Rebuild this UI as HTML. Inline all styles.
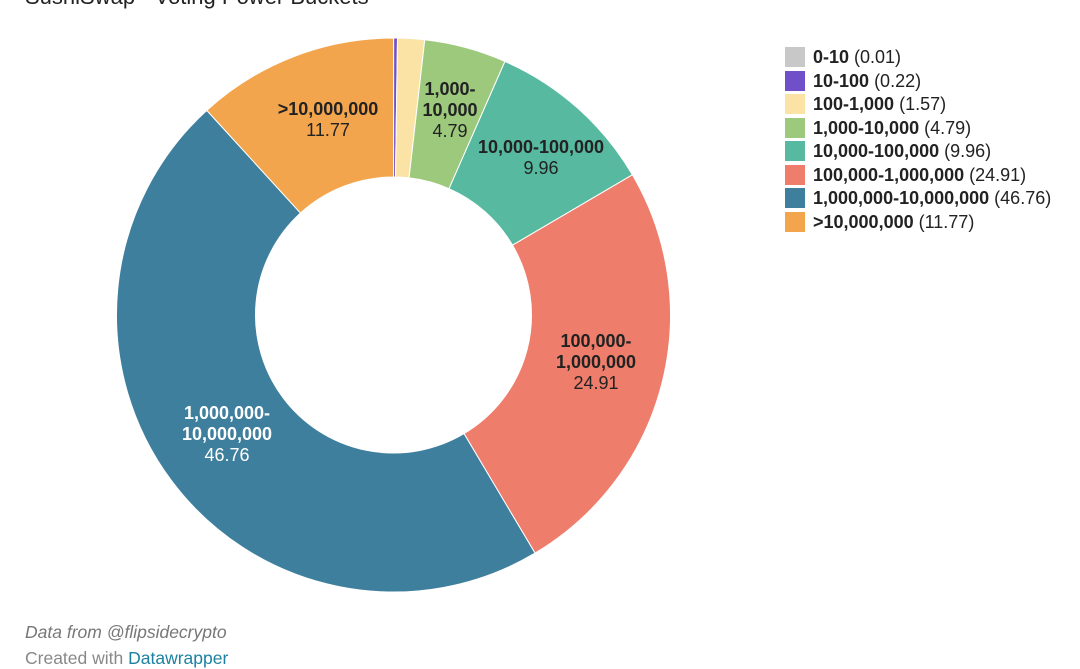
<!DOCTYPE html>
<html><head><meta charset="utf-8"><style>
body{margin:0;width:1080px;height:663px;overflow:hidden;background:#fff;font-family:"Liberation Sans",sans-serif;position:relative}
.t{position:absolute;left:25px;top:-16px;font-size:22px;color:#222}
.lg{position:absolute;left:785px;top:46px;font-size:18px;color:#222}
.lg div{height:23.5px;line-height:22px;white-space:nowrap}
.lg span.s{display:inline-block;width:20px;height:20px;vertical-align:-4px;margin-right:8px}
.f{position:absolute;left:25px;font-size:17.5px;color:#777;font-style:italic}
</style></head><body>
<div class="t">SushiSwap - Voting Power Buckets</div>
<svg id="c" width="1080" height="663" style="position:absolute;left:0;top:0"></svg>
<div class="lg">
<div><span class="s" style="background:#c8c8c8"></span><b>0-10</b> (0.01)</div>
<div><span class="s" style="background:#7050c8"></span><b>10-100</b> (0.22)</div>
<div><span class="s" style="background:#fbe3a5"></span><b>100-1,000</b> (1.57)</div>
<div><span class="s" style="background:#9dc97d"></span><b>1,000-10,000</b> (4.79)</div>
<div><span class="s" style="background:#56b9a0"></span><b>10,000-100,000</b> (9.96)</div>
<div><span class="s" style="background:#ee7e6b"></span><b>100,000-1,000,000</b> (24.91)</div>
<div><span class="s" style="background:#3f7f9e"></span><b>1,000,000-10,000,000</b> (46.76)</div>
<div><span class="s" style="background:#f2a54c"></span><b>&gt;10,000,000</b> (11.77)</div>
</div>
<div class="f" style="top:622px">Data from @flipsidecrypto</div>
<div class="f" style="top:648px;font-style:normal;color:#888">Created with <span style="color:#1d81a2">Datawrapper</span></div>
<script>
var d=[[0.01,"#c8c8c8"],[0.22,"#7050c8"],[1.57,"#fbe3a5"],[4.79,"#9dc97d"],[9.96,"#56b9a0"],[24.91,"#ee7e6b"],[46.76,"#3f7f9e"],[11.77,"#f2a54c"]];
var cx=393.5,cy=315,R=277,r=138,tot=99.99,a=-Math.PI/2,s="";
function p(rad,an){return (cx+rad*Math.cos(an)).toFixed(2)+" "+(cy+rad*Math.sin(an)).toFixed(2)}
d.forEach(function(x){var b=a+x[0]/tot*2*Math.PI,l=(b-a)>Math.PI?1:0;
s+='<path d="M'+p(R,a)+' A'+R+' '+R+' 0 '+l+' 1 '+p(R,b)+' L'+p(r,b)+' A'+r+' '+r+' 0 '+l+' 0 '+p(r,a)+'Z" fill="'+x[1]+'" stroke="#fff" stroke-width="1"/>';a=b;});
var L=[[328,115,[">10,000,000"],"11.77","#222"],[450,95,["1,000-","10,000"],"4.79","#222"],[541,153,["10,000-100,000"],"9.96","#222"],[596,347,["100,000-","1,000,000"],"24.91","#222"],[227,419,["1,000,000-","10,000,000"],"46.76","#fff"]];
L.forEach(function(q){var y=q[1];q[2].forEach(function(t){s+='<text x="'+q[0]+'" y="'+y+'" text-anchor="middle" font-size="18" font-weight="bold" fill="'+q[4]+'">'+t+'</text>';y+=21;});
s+='<text x="'+q[0]+'" y="'+y+'" text-anchor="middle" font-size="18" fill="'+q[4]+'">'+q[3]+'</text>';});
document.getElementById("c").innerHTML=s;
</script>
</body></html>
